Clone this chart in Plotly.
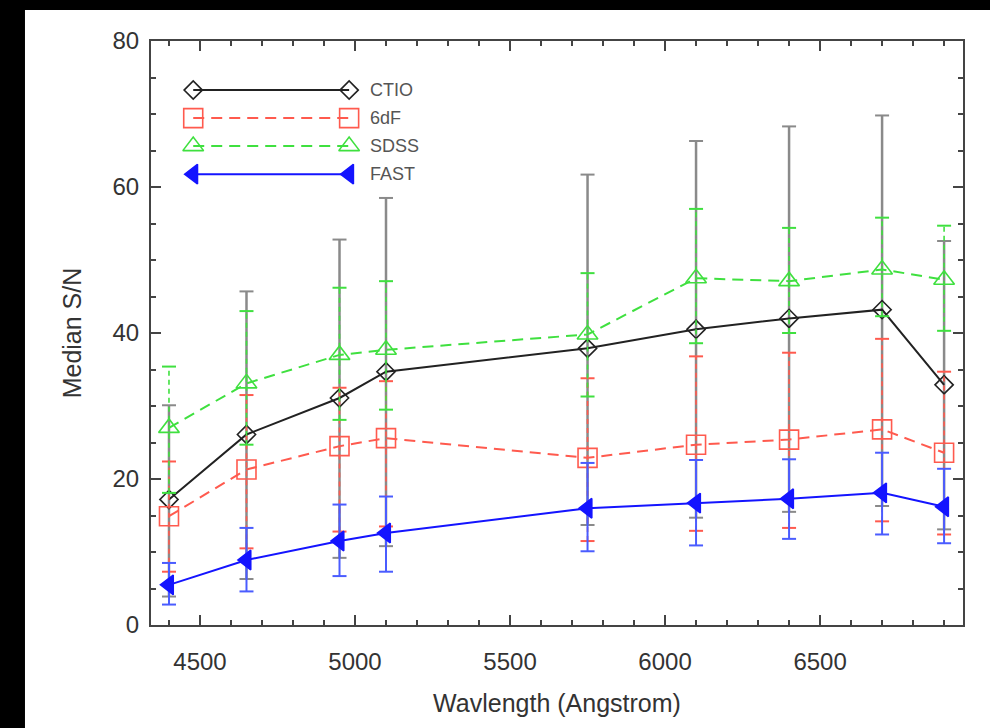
import plotly.graph_objects as go

# ---------------- data ----------------
wavelength = [4400, 4650, 4950, 5100, 5750, 6100, 6400, 6700, 6900]

ctio = [17.2, 26.1, 31.1, 34.7, 37.9, 40.5, 42.0, 43.2, 32.9]
ctio_hi = [30.1, 45.7, 52.8, 58.5, 61.7, 66.3, 68.3, 69.8, 52.6]
ctio_lo = [3.9, 6.3, 9.2, 10.8, 13.7, 14.7, 15.5, 16.3, 13.1]

sixdf = [14.9, 21.3, 24.5, 25.6, 22.9, 24.7, 25.4, 26.8, 23.6]
sixdf_hi = [22.4, 31.5, 32.5, 33.4, 33.8, 36.8, 37.3, 39.2, 34.7]
sixdf_lo = [7.3, 10.5, 12.8, 13.5, 11.5, 12.9, 13.3, 14.2, 12.4]

sdss = [27.0, 33.1, 37.0, 37.7, 39.8, 47.5, 47.1, 48.7, 47.3]
sdss_hi = [35.4, 43.0, 46.2, 47.1, 48.2, 57.0, 54.4, 55.8, 54.7]
sdss_lo = [18.1, 24.7, 28.1, 29.5, 31.3, 38.6, 40.0, 42.3, 40.3]

fast = [5.5, 8.9, 11.5, 12.6, 16.0, 16.7, 17.3, 18.1, 16.2]
fast_hi = [8.5, 13.3, 16.5, 17.6, 22.2, 22.6, 22.7, 23.6, 21.4]
fast_lo = [2.8, 4.6, 6.7, 7.3, 10.1, 10.9, 11.8, 12.4, 11.2]

series_names = ["CTIO", "6dF", "SDSS", "FAST"]

x_ticks = [4500, 5000, 5500, 6000, 6500]
y_ticks = [0, 20, 40, 60, 80]

# ---------------- styles ----------------
styles = {
    "CTIO": dict(color="#222222", errcolor="#8a8a8a", dash="solid", errdash="solid",
                 symbol="diamond-open", size=14, lw=2, ew=2.5),
    "6dF": dict(color="#ff5a4e", errcolor="#ff5a4e", dash="11px,7px", errdash="5px,4px",
                symbol="square-open", size=19, lw=2, ew=1.6),
    "SDSS": dict(color="#3fe03f", errcolor="#3fe03f", dash="11px,7px", errdash="5px,4px",
                 symbol="triangle-up-open", size=18, lw=2, ew=1.6),
    "FAST": dict(color="#1414ff", errcolor="#4a5cff", dash="solid", errdash="solid",
                 symbol="triangle-left", size=17, lw=2, ew=2),
}

data = {
    "CTIO": (ctio, ctio_lo, ctio_hi),
    "6dF": (sixdf, sixdf_lo, sixdf_hi),
    "SDSS": (sdss, sdss_lo, sdss_hi),
    "FAST": (fast, fast_lo, fast_hi),
}

FONT = "Liberation Sans, Arial, Helvetica, sans-serif"

fig = go.Figure()

for name in series_names:
    vals, lo, hi = data[name]
    st = styles[name]
    # vertical error segments
    ex, ey = [], []
    for xi, l, h in zip(wavelength, lo, hi):
        ex += [xi, xi, None]
        ey += [l, h, None]
    fig.add_trace(go.Scatter(
        x=ex, y=ey, mode="lines", showlegend=False, hoverinfo="skip",
        line=dict(color=st["errcolor"], width=st["ew"], dash=st["errdash"]),
    ))
    # caps
    fig.add_trace(go.Scatter(
        x=wavelength + wavelength, y=lo + hi, mode="markers", showlegend=False,
        hoverinfo="skip",
        marker=dict(symbol="line-ew", size=10,
                    line=dict(color=st["errcolor"], width=2)),
    ))
    # main line with markers
    mk = dict(symbol=st["symbol"], size=st["size"], color=st["color"],
              line=dict(color=st["color"], width=1.6))
    fig.add_trace(go.Scatter(
        x=wavelength, y=vals, mode="lines+markers", name=name, showlegend=False,
        line=dict(color=st["color"], width=st["lw"], dash=st["dash"]),
        marker=mk,
    ))

# ---------------- custom legend (marker at both ends of a line) ----------------
legend_x = [0.052, 0.244]
legend_rows = [0.916, 0.868, 0.820, 0.772]
annotations = []
for name, ry in zip(series_names, legend_rows):
    st = styles[name]
    fig.add_trace(go.Scatter(
        x=legend_x, y=[ry, ry], xaxis="x2", yaxis="y2", mode="lines+markers",
        showlegend=False, hoverinfo="skip",
        line=dict(color=st["color"], width=st["lw"], dash=st["dash"]),
        marker=dict(symbol=st["symbol"], size=st["size"], color=st["color"],
                    line=dict(color=st["color"], width=1.6)),
    ))
    annotations.append(dict(
        x=0.267, y=ry, xref="x2", yref="y2", text=name, showarrow=False,
        xanchor="left", yanchor="middle",
        font=dict(family=FONT, size=18, color="#555555"),
    ))

axis_common = dict(
    showgrid=False, zeroline=False, showline=True, linewidth=2, linecolor="#444444",
    mirror="allticks", ticks="inside", ticklen=10, tickwidth=1.5, tickcolor="#444444",
    tickfont=dict(family=FONT, size=24, color="#333333"),
)

fig.update_layout(
    width=990, height=728,
    margin=dict(l=151, r=27, t=41, b=103, pad=0),
    paper_bgcolor="black",
    plot_bgcolor="white",
    annotations=annotations,
    shapes=[dict(type="rect", xref="paper", yref="paper",
                 x0=-0.1552, x1=1.04, y0=-0.2, y1=1.053,
                 fillcolor="white", line=dict(width=0), layer="below")],
    xaxis=dict(
        range=[4342, 6961], tickvals=x_ticks,
        minor=dict(dtick=100, tick0=4500, ticks="inside", ticklen=5,
                   tickwidth=1.5, tickcolor="#444444"),
        ticklabelstandoff=14,
        title=dict(text="Wavlength (Angstrom)", standoff=21,
                   font=dict(family=FONT, size=25, color="#333333")),
        **axis_common,
    ),
    yaxis=dict(
        range=[0, 80], tickvals=y_ticks,
        minor=dict(dtick=5, tick0=0, ticks="inside", ticklen=5,
                   tickwidth=1.5, tickcolor="#444444"),
        ticklabelstandoff=5,
        title=dict(text="Median S/N", standoff=24,
                   font=dict(family=FONT, size=25, color="#333333")),
        **axis_common,
    ),
    xaxis2=dict(overlaying="x", range=[0, 1], visible=False, fixedrange=True),
    yaxis2=dict(overlaying="y", range=[0, 1], visible=False, fixedrange=True),
)

fig.write_html(
    "out.html",
    config={"displayModeBar": False},
    post_script="document.body.style.margin='0';document.body.style.background='black';",
)
